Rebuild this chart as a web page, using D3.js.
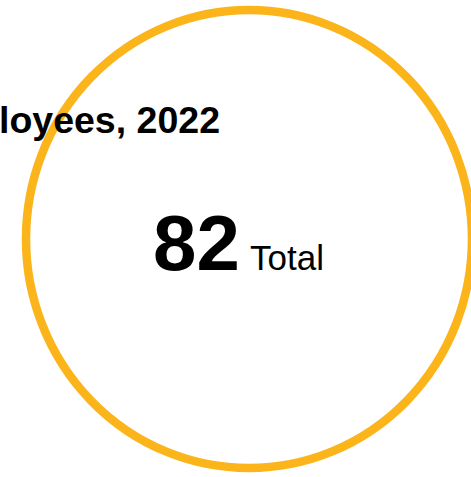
<!DOCTYPE html>
<html>
<head>
<meta charset="utf-8">
<script src="https://cdn.jsdelivr.net/npm/d3@7"></script>
<style>
  html, body { margin: 0; padding: 0; background: #fff; overflow: hidden; }
</style>
</head>
<body>
<svg id="chart"></svg>
<script>
// data
const titles = ["Employees, 2022"];
const values = [82];
const labels = ["Total"];

const width = 471;
const height = 477;

const svg = d3.select('#chart')
  .attr('width', width)
  .attr('height', height);

// ring
svg.append('ellipse')
  .attr('cx', 249)
  .attr('cy', 239)
  .attr('rx', 223)
  .attr('ry', 229)
  .attr('fill', 'none')
  .attr('stroke', '#fbb41a')
  .attr('stroke-width', 8.5);

// title (runs off the left edge, as in the original)
svg.append('text')
  .attr('x', 220)
  .attr('y', 133)
  .attr('text-anchor', 'end')
  .style('font-family', 'Liberation Sans, Arial, sans-serif')
  .style('font-weight', 'bold')
  .style('font-size', '37.5px')
  .text(titles[0]);

// big number + label
svg.append('text')
  .attr('x', 153)
  .attr('y', 270)
  .style('font-family', 'Liberation Sans, Arial, sans-serif')
  .style('font-weight', 'bold')
  .style('font-size', '78px')
  .text(d3.format('d')(values[0]));

svg.append('text')
  .attr('x', 250)
  .attr('y', 270)
  .style('font-family', 'Liberation Sans, Arial, sans-serif')
  .style('font-size', '35px')
  .text(labels[0]);
</script>
</body>
</html>
